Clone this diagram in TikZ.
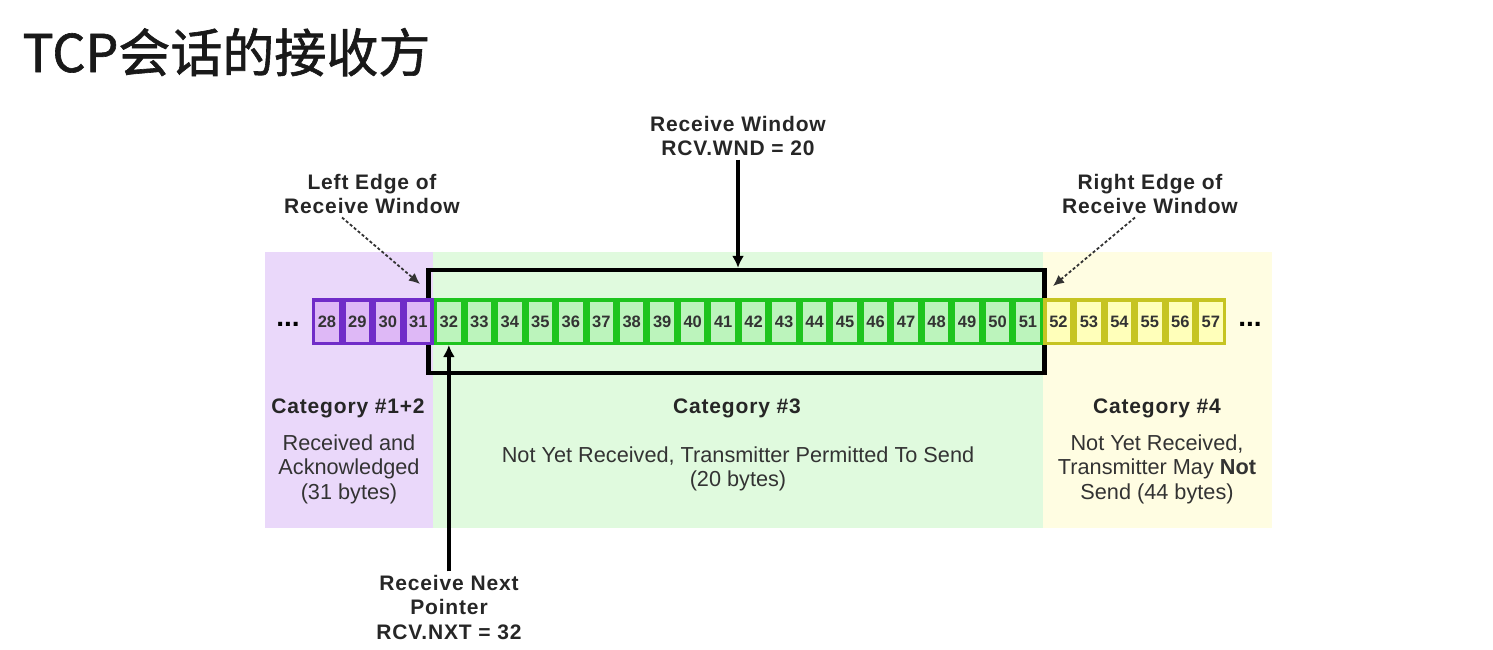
\documentclass[tikz,border=0pt]{standalone}
\usepackage{fontspec}
\setmainfont{Liberation Sans}
\newfontfamily\cjk[FakeBold=1.2]{Noto Sans CJK SC}
\newfontfamily\lblfont[LetterSpace=4]{Liberation Sans}
\usepackage{xcolor}
\usetikzlibrary{arrows.meta,positioning}

\definecolor{bgpurple}{RGB}{234,216,250}
\definecolor{bggreen}{RGB}{224,250,222}
\definecolor{bgyellow}{RGB}{255,253,226}
\definecolor{purpleline}{RGB}{112,44,200}
\definecolor{purplefill}{RGB}{222,184,246}
\definecolor{greenline}{RGB}{30,196,30}
\definecolor{greenfill}{RGB}{188,244,188}
\definecolor{yellowline}{RGB}{198,196,34}
\definecolor{yellowfill}{RGB}{255,255,186}

\tikzset{
  cell/.style = {draw, line width = 3.5pt, minimum width = 26.97pt, minimum height = 43.5pt, inner sep = 0pt, font = \fontsize{16.5}{17}\selectfont\bfseries, text = black!80},
  lbl/.style = {align = center, font = \lblfont\fontsize{21}{24.5}\selectfont\bfseries, text = black!85},
  txt/.style = {align = center, font = \fontsize{21.7}{24.5}\selectfont, text = black!80},
  ptr/.style = {line width = 4pt, -{Latex[length = 12pt, width = 12pt]}},
  dashptr/.style = {line width = 1.8pt, dash pattern = on 3pt off 2.2pt, black!80, -{Latex[length = 11pt, width = 10pt]}}
}

\begin{document}
\begin{tikzpicture}[x = 1pt, y = -1pt]
\useasboundingbox (0,0) rectangle (1493,649);
\node[anchor = base west, font = \cjk\fontsize{52}{52}\selectfont, text = black!90] (title) at (19, 72) {TCP会话的接收方};
\fill[bgpurple] (265,252) rectangle (433,528);
\fill[bggreen] (433,252) rectangle (1043,528);
\fill[bgyellow] (1043,252) rectangle (1272,528);
\node[draw, line width = 4.5pt, minimum width = 616pt, minimum height = 103pt, inner sep = 0pt] (win) at (736.5, 321.6) {};
\foreach \n in {28,...,31}
\node[cell, draw = purpleline, fill = purplefill] (c\n) at ({326.94+(\n-28)*30.48}, 321.5) {\n};
\foreach \n in {32,...,51}
\node[cell, draw = greenline, fill = greenfill] (c\n) at ({326.94+(\n-28)*30.48}, 321.5) {\n};
\foreach \n in {52,...,57}
\node[cell, draw = yellowline, fill = yellowfill] (c\n) at ({326.94+(\n-28)*30.48}, 321.5) {\n};
\node[anchor = base, font = \fontsize{28}{28}\selectfont\bfseries] (ldots) at (288, 326) {...};
\node[anchor = base, font = \fontsize{28}{28}\selectfont\bfseries] (rdots) at (1250, 326) {...};
\node[lbl] (wndlbl) at (738, 136) {Receive Window\\RCV.WND = 20};
\node[lbl] (leftlbl) at (372, 194) {Left Edge of\\Receive Window};
\node[lbl] (rightlbl) at (1150, 194) {Right Edge of\\Receive Window};
\node[lbl] (nxtlbl) at (449, 607) {Receive Next\\Pointer\\RCV.NXT = 32};
\node[lbl] (cat12) at (348, 408) {Category \#1+2};
\node[txt] (txt12) at (349, 469) {Received and\\Acknowledged\\(31 bytes)};
\node[lbl] (cat3) at (737, 408) {Category \#3};
\node[txt] (txt3) at (738, 469) {Not Yet Received, Transmitter Permitted To Send\\(20 bytes)};
\node[lbl] (cat4) at (1157, 408) {Category \#4};
\node[txt] (txt4) at (1157, 469) {Not Yet Received,\\Transmitter May \textbf{Not}\\Send (44 bytes)};
\coordinate (ledge) at (420, 284);
\coordinate (redge) at (1053, 286);
\draw[ptr] (wndlbl.south) -- (wndlbl.south |- win.north);
\draw[ptr] (nxtlbl.north -| c32) -- (c32.south);
\draw[dashptr] ([xshift = -30pt]leftlbl.south) -- (ledge);
\draw[dashptr] ([xshift = -15pt]rightlbl.south) -- (redge);
\end{tikzpicture}
\end{document}
